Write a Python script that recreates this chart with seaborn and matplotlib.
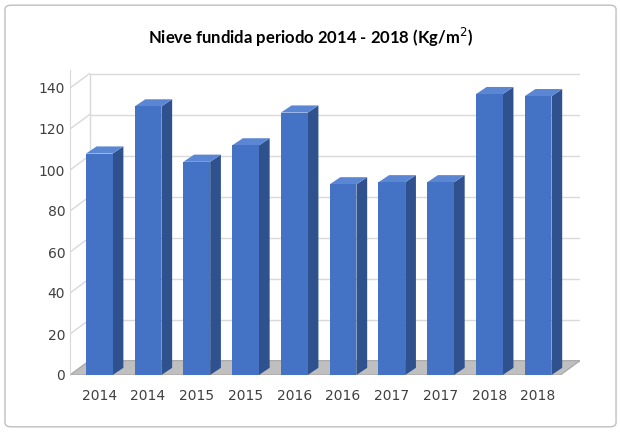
import matplotlib
matplotlib.use("Agg")
import matplotlib.pyplot as plt
import pandas as pd
import seaborn as sns
from matplotlib.patches import Polygon, FancyBboxPatch, Rectangle

years = ["2014", "2014", "2015", "2015", "2016", "2016", "2017", "2017", "2018", "2018"]
values = [108, 131, 104, 112, 128, 93, 94, 94, 137, 136]
yticks = [0, 20, 40, 60, 80, 100, 120, 140]

FRONT = "#4472C4"
SIDE = "#2F528F"
TOP = "#5A86D3"
DX, DY = 0.22, 3.5  # depth offset in data units
XL, XR = -0.6, 9.86

df = pd.DataFrame({"pos": [str(i) for i in range(len(values))], "val": values})

fig = plt.figure(figsize=(6.21, 4.32), dpi=100)
fig.patches.append(FancyBboxPatch((0.008, 0.012), 0.984, 0.976, boxstyle="round,pad=0,rounding_size=0.01",
                                  transform=fig.transFigure, fill=False, edgecolor="#BFBFBF", lw=1))
ax = fig.add_axes([70 / 621, 1 - 375 / 432, 510 / 621, 305 / 432])

# floor
ax.add_patch(Polygon([(XL, 0), (XR - 0.4, 0), (XR, DY * 2), (XL + 0.4, DY * 2)],
                     closed=True, facecolor="#BFBFBF", edgecolor="#A6A6A6", lw=0.8, zorder=0.5))
# back wall gridlines
for v in yticks:
    ax.plot([XL + 0.4, XR], [v + DY * 2, v + DY * 2], color="#D9D9D9", lw=1, zorder=0.4)
    ax.plot([XL, XL + 0.4], [v, v + DY * 2], color="#D9D9D9", lw=1, zorder=0.4)
ax.plot([XL + 0.4, XL + 0.4], [DY * 2, yticks[-1] + DY * 2], color="#D9D9D9", lw=1, zorder=0.4)

sns.barplot(data=df, x="pos", y="val", color=FRONT, saturation=1, width=0.55, ax=ax, zorder=2)
for p in list(ax.patches):
    if type(p) is not Rectangle:
        continue
    x0, w, h = p.get_x(), p.get_width(), p.get_height()
    x1 = x0 + w
    ax.add_patch(Polygon([(x1, 0), (x1 + DX, DY), (x1 + DX, h + DY), (x1, h)],
                         closed=True, facecolor=SIDE, edgecolor="none", zorder=1.9))
    ax.add_patch(Polygon([(x0, h), (x1, h), (x1 + DX, h + DY), (x0 + DX, h + DY)],
                         closed=True, facecolor=TOP, edgecolor="none", zorder=1.9))

ax.set_xlim(XL, XR)
ax.set_ylim(0, 305 / 2.05)
ax.set_xticks(range(len(years)))
ax.set_xticklabels(years)
ax.set_yticks(yticks)
ax.tick_params(axis="both", length=0, labelsize=10, colors="#404040")
ax.tick_params(axis="x", pad=10)
ax.set_xlabel("")
ax.set_ylabel("")
for s in ["top", "right", "bottom"]:
    ax.spines[s].set_visible(False)
ax.spines["left"].set_color("#D9D9D9")
ax.set_facecolor("none")

fig.text(0.5, 1 - 37 / 432, "Nieve fundida periodo 2014 - 2018 (Kg/m$^2$)", ha="center", va="center",
         fontsize=12, fontweight="bold", family="Lato", color="#000000")
fig.savefig("out.png", dpi=100)
